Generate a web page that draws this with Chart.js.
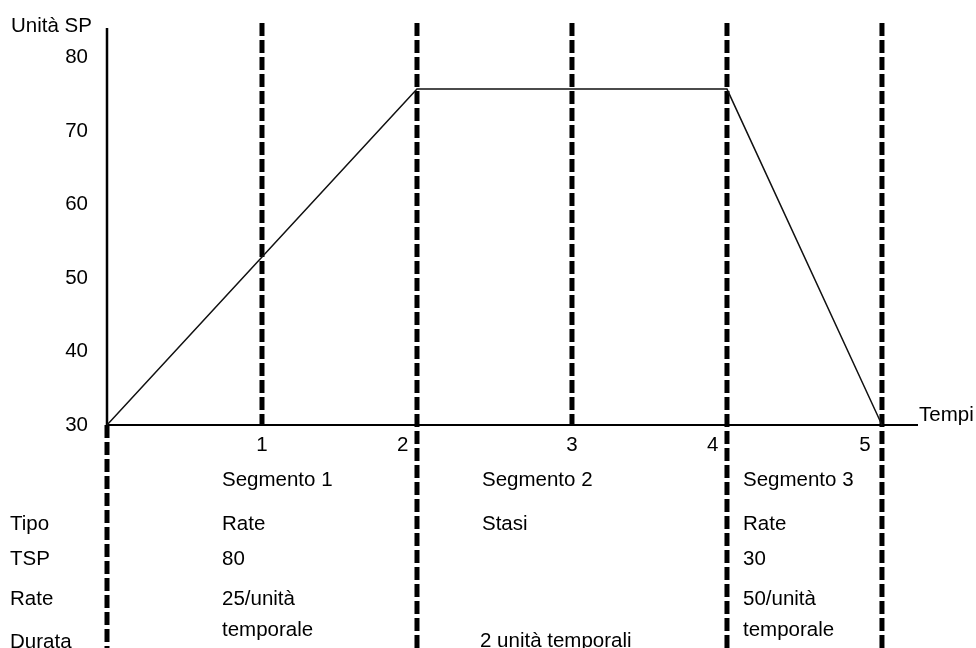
<!DOCTYPE html>
<html><head><meta charset="utf-8">
<script src="https://cdn.jsdelivr.net/npm/chart.js@4"></script>
<style>
html,body{margin:0;padding:0;background:#fff;}
#wrap{position:relative;width:976px;height:648px;overflow:hidden;background:#fff;}
canvas{position:absolute;left:0;top:0;}
.t{position:absolute;font-family:"Liberation Sans",Arial,sans-serif;font-size:20.5px;line-height:24px;color:#000;white-space:nowrap;}
</style></head><body>
<div id="wrap"><canvas id="c" width="976" height="648"></canvas></div>
<script>
// ---- data ----
const xTickValues = [1, 2, 3, 4, 5];
const xTickLabels = ['1', '2', '3', '4', '5'];
const yTickValues = [30, 40, 50, 60, 70, 80];
const profileX = [0, 2, 4, 5];
const profileY = [30, 75.7, 75.7, 30];
const dividerX = [1, 2, 3, 4, 5];
const dividerFull = [false, true, false, true, true];
const yAxisTitle = 'Unità SP';
const xAxisTitle = 'Tempi';
const rowLabels = ['Tipo', 'TSP', 'Rate', 'Durata'];
const segmentNames = ['Segmento 1', 'Segmento 2', 'Segmento 3'];
const segmentTipo = ['Rate', 'Stasi', 'Rate'];
const segmentTSP = ['80', '', '30'];
const segmentRate = [['25/unità', 'temporale'], [], ['50/unità', 'temporale']];
const segmentDurata = ['', '2 unità temporali', ''];

// ---- scale extents / styling ----
const Y_MIN = -0.34, Y_MAX = 84.69, Y_AXIS_TOP = 84.0, BASE = 30;
const X_MIN = 0, X_MAX = 5.226;
const FONT = '"Liberation Sans", Arial, sans-serif';
const labelShift = {2: 5, 4: 5, 5: 6}; // trailing spaces to push labels left of dashed lines

const datasets = [];
datasets.push({
  data: profileX.map((x, i) => ({x, y: profileY[i]})),
  borderColor: '#111', borderWidth: 1.5, pointRadius: 0, fill: false, tension: 0, clip: false
});
dividerX.forEach((x, i) => {
  datasets.push({
    data: [{x, y: Y_MAX}, {x, y: dividerFull[i] ? Y_MIN : BASE}],
    borderColor: '#000', borderWidth: 5, borderDash: [13, 4], borderCapStyle: 'butt',
    pointRadius: 0, fill: false, clip: false
  });
});
// y-axis: solid above base, dashed below
datasets.push({
  data: [{x: X_MIN, y: Y_AXIS_TOP}, {x: X_MIN, y: BASE}],
  borderColor: '#000', borderWidth: 2.5, pointRadius: 0, fill: false, clip: false
});
datasets.push({
  data: [{x: X_MIN, y: BASE}, {x: X_MIN, y: Y_MIN}],
  borderColor: '#000', borderWidth: 5, borderDash: [13, 4], borderCapStyle: 'butt',
  pointRadius: 0, fill: false, clip: false
});

new Chart(document.getElementById('c'), {
  type: 'line',
  data: {datasets},
  options: {
    responsive: false, animation: false, events: [],
    layout: {padding: {top: 23, right: 59, bottom: 0, left: 0}},
    plugins: {legend: {display: false}, tooltip: {enabled: false}, title: {display: false}},
    scales: {
      x: {
        type: 'linear', min: X_MIN, max: X_MAX, position: {y: BASE},
        grid: {display: false, drawTicks: false},
        border: {display: true, color: '#000', width: 2},
        afterBuildTicks: s => { s.ticks = xTickValues.map(v => ({value: v})); },
        afterFit: s => { s.paddingLeft = 0; s.paddingRight = 0; },
        ticks: {
          padding: 8, color: '#000', font: {family: FONT, size: 20.5},
          maxRotation: 0, autoSkip: false,
          callback: v => {
            const i = xTickValues.indexOf(v);
            return i < 0 ? '' : xTickLabels[i] + ' '.repeat(labelShift[v] || 0);
          }
        }
      },
      y: {
        type: 'linear', min: Y_MIN, max: Y_MAX,
        grid: {display: false, drawTicks: false},
        border: {display: false},
        afterBuildTicks: s => { s.ticks = yTickValues.map(v => ({value: v})); },
        afterFit: s => { s.width = 107; s.paddingTop = 0; s.paddingBottom = 0; },
        ticks: {padding: 19, color: '#000', font: {family: FONT, size: 20.5}, autoSkip: false}
      }
    }
  }
});

// ---- text annotations (real text) ----
const wrap = document.getElementById('wrap');
function addText(str, x, baseline) {
  if (!str) return;
  const d = document.createElement('div');
  d.className = 't';
  d.textContent = str;
  d.style.left = x + 'px';
  d.style.top = (baseline - 19) + 'px';
  wrap.appendChild(d);
}
addText(yAxisTitle, 11, 32);
addText(xAxisTitle, 919, 421);
const rowBase = [530, 565, 605, 648];
rowLabels.forEach((r, i) => addText(r, 10, rowBase[i]));
const colX = [222, 482, 743];
segmentNames.forEach((s, i) => {
  addText(s, colX[i], 486);
  addText(segmentTipo[i], colX[i], rowBase[0]);
  addText(segmentTSP[i], colX[i], rowBase[1]);
  segmentRate[i].forEach((ln, k) => addText(ln, colX[i], rowBase[2] + k * 31));
  addText(segmentDurata[i], colX[i] - 2, 647);
});
</script>
</body></html>
